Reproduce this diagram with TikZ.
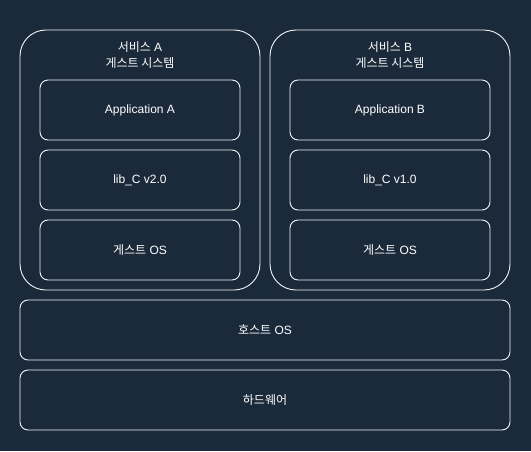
\documentclass[tikz,border=0pt]{standalone}
\usepackage{fontspec}
\setmainfont{Liberation Sans}
\newfontfamily\kr{Noto Sans CJK KR}
\usepackage{tikz}
\usetikzlibrary{arrows.meta}
\definecolor{bgnavy}{HTML}{1B2A3B}
\definecolor{edgewhite}{HTML}{F2F4F6}
\tikzset{
    layer/.style={draw=edgewhite, line width=0.9pt, rounded corners=8pt, text=white, font=\fontsize{12}{14}\selectfont},
    guestsys/.style={draw=edgewhite, line width=0.9pt, rounded corners=26pt, minimum width=240pt, minimum height=260pt},
    caption/.style={text=white, align=center, font=\fontsize{12}{16}\selectfont}
}
\begin{document}
\begin{tikzpicture}[x=1pt, y=-1pt]
        % Background
        \fill[bgnavy] (0,0) rectangle (531,451);
        \useasboundingbox (0,0) rectangle (531,451);

        % Guest systems
        \node[guestsys] (sysA) at (140, 160) {};
        \node[guestsys] (sysB) at (390, 160) {};
        \node[caption] (titleA) at (140, 55) {{\kr 서비스} A\\{\kr 게스트 시스템}};
        \node[caption] (titleB) at (390, 55) {{\kr 서비스} B\\{\kr 게스트 시스템}};

        % Nodes
        \node[layer, minimum width=200pt, minimum height=60pt] (appA) at (140, 110) {Application A};
        \node[layer, minimum width=200pt, minimum height=60pt] (libA) at (140, 180) {lib\_C v2.0};
        \node[layer, minimum width=200pt, minimum height=60pt] (osA) at (140, 250) {{\kr 게스트} OS};
        \node[layer, minimum width=200pt, minimum height=60pt] (appB) at (390, 110) {Application B};
        \node[layer, minimum width=200pt, minimum height=60pt] (libB) at (390, 180) {lib\_C v1.0};
        \node[layer, minimum width=200pt, minimum height=60pt] (osB) at (390, 250) {{\kr 게스트} OS};

        % Host layers
        \node[layer, minimum width=490pt, minimum height=60pt] (hostos) at (265, 330) {{\kr 호스트} OS};
        \node[layer, minimum width=490pt, minimum height=60pt] (hardware) at (265, 400) {\kr 하드웨어};
    \end{tikzpicture}
\end{document}
